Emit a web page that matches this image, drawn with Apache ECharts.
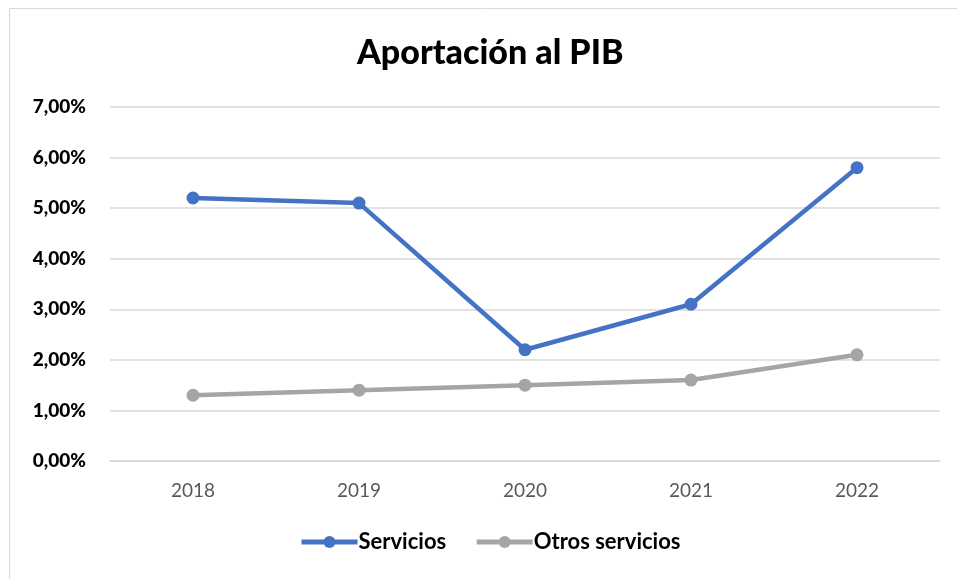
<!DOCTYPE html>
<html>
<head>
<meta charset="utf-8">
<script src="https://cdn.jsdelivr.net/npm/echarts@6/dist/echarts.min.js"></script>
<style>
  html, body { margin: 0; padding: 0; background: #fff; }
  #main { width: 957px; height: 579px; }
</style>
</head>
<body>
<div id="main"></div>
<script>
// Chart data
var years = ['2018', '2019', '2020', '2021', '2022'];
var servicios = [5.2, 5.1, 2.2, 3.1, 5.8];
var otrosServicios = [1.3, 1.4, 1.5, 1.6, 2.1];

var myChart = echarts.init(document.getElementById('main'));
var font = 'Lato, "Open Sans", sans-serif';

var option = {
  backgroundColor: '#fff',
  textStyle: { fontFamily: font },
  title: {
    text: 'Aportación al PIB',
    left: 352,
    top: 31,
    textStyle: { fontSize: 34, fontWeight: 900, color: '#000', fontFamily: font }
  },
  graphic: [{
    type: 'rect',
    shape: { x: 9.5, y: 8.5, width: 1000, height: 1000 },
    style: { fill: 'none', stroke: '#d9d9d9', lineWidth: 1 },
    silent: true
  }],
  legend: {
    bottom: 21,
    left: 294,
    itemWidth: 56,
    itemHeight: 15,
    itemGap: 28,
    lineStyle: { width: 5 },
    textStyle: { fontSize: 22, fontWeight: 'bold', color: '#000', fontFamily: font, padding: [0, 0, 0, -4] },
    data: ['Servicios', 'Otros servicios']
  },
  grid: { left: 110, right: 17, top: 107, bottom: 118, containLabel: false },
  xAxis: {
    type: 'category',
    data: years,
    boundaryGap: true,
    axisLine: { show: true, lineStyle: { color: '#d9d9d9', width: 1.5 } },
    axisTick: { show: false },
    axisLabel: { color: '#595959', fontSize: 19, margin: 20, fontFamily: font }
  },
  yAxis: {
    type: 'value',
    min: 0,
    max: 7,
    interval: 1,
    axisLine: { show: false },
    axisTick: { show: false },
    splitLine: { lineStyle: { color: '#d9d9d9', width: 1.5 } },
    axisLabel: {
      color: '#000',
      fontSize: 19,
      fontWeight: 900,
      margin: 24,
      fontFamily: font,
      formatter: function (v) { return v.toFixed(2).replace('.', ',') + '%'; }
    }
  },
  series: [
    {
      name: 'Servicios',
      type: 'line',
      data: servicios,
      symbol: 'circle',
      symbolSize: 13,
      itemStyle: { color: '#4472C4' },
      lineStyle: { color: '#4472C4', width: 4.5 }
    },
    {
      name: 'Otros servicios',
      type: 'line',
      data: otrosServicios,
      symbol: 'circle',
      symbolSize: 13,
      itemStyle: { color: '#A5A5A5' },
      lineStyle: { color: '#A5A5A5', width: 4.5 }
    }
  ]
};

myChart.setOption(option);
</script>
</body>
</html>
